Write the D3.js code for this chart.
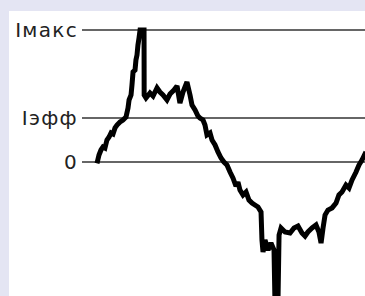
<!DOCTYPE html>
<meta charset="utf-8">
<html>
  <head>
    <style>
      body { margin: 0; }
      text.lbl {
          font-family: "DejaVu Sans", sans-serif;
          font-size: 20px;
          letter-spacing: 1.3px;
          fill: #222;
      }
    </style>
    <script src="https://d3js.org/d3.v7.min.js"></script>
  </head>
  <body>
    <script>

      var width = 365;
      var height = 296;

      // reference levels
      var levelNames = ["Iмакс", "Iэфф", "0"];
      var levelValues = [10, 3.33, 0];

      // one period, t in ms, current in A
      var tMs = [0, 0.15, 0.30, 0.45, 0.60, 0.75, 0.91, 1.06, 1.21, 1.36, 1.51, 1.74, 1.96, 2.19, 2.34, 2.42, 2.57, 2.64, 2.72, 2.87, 2.94, 3.02, 3.09, 3.17, 3.25, 3.55, 3.56, 3.70, 4.00, 4.23, 4.53, 4.75, 4.98, 5.28, 5.51, 5.81, 6.04, 6.26, 6.49, 6.79, 7.02, 7.17, 7.40, 7.62, 7.77, 8.00, 8.15, 8.30, 8.53, 8.68, 8.91, 9.13, 9.36, 9.58, 9.81, 10.04, 10.26, 10.49, 10.64, 10.79, 11.02, 11.25, 11.47, 11.70, 11.92, 12.15, 12.38, 12.45, 12.53, 12.68, 12.91, 13.13, 13.36, 13.43, 13.66, 13.74, 13.89, 14.19, 14.57, 14.87, 15.17, 15.47, 15.70, 15.92, 16.23, 16.53, 16.75, 16.91, 17.06, 17.21, 17.43, 17.74, 18.04, 18.26, 18.49, 18.79, 19.02, 19.25, 19.55, 19.77, 20.0, 20.3];
      var current = [-0.1, 0.53, 0.91, 1.14, 1.06, 1.67, 1.89, 2.20, 2.12, 2.58, 2.80, 3.03, 3.18, 3.41, 4.09, 4.70, 5.08, 5.83, 6.82, 6.97, 7.73, 8.11, 8.86, 9.39, 10, 10, 5.08, 4.85, 5.23, 5.00, 5.61, 5.30, 5.08, 4.70, 5.15, 5.45, 5.76, 4.47, 5.30, 6.06, 5.08, 4.32, 3.94, 3.48, 3.33, 3.18, 2.80, 2.05, 2.20, 1.67, 1.29, 0.76, 0.30, 0, -0.23, -0.76, -1.21, -1.82, -1.52, -2.12, -2.50, -2.27, -2.88, -3.11, -3.26, -3.41, -3.79, -5.91, -6.82, -5.91, -6.67, -6.14, -6.67, -10.5, -10.5, -5.53, -5.0, -5.30, -5.38, -5.0, -4.85, -5.38, -5.61, -5.30, -5.0, -4.77, -5.30, -6.14, -5.0, -4.02, -3.64, -3.48, -3.11, -2.50, -2.27, -1.74, -1.97, -1.36, -0.76, -0.23, 0.15, 0.76];

      var svg = d3.select('body').append('svg')
	  .attr('width', width)
	  .attr('height', height);

      svg.append("rect")
	  .attr("width", width).attr("height", height)
	  .attr("fill", "#e4e5f3");

      svg.append("rect")
	  .attr("x", 9).attr("y", 11)
	  .attr("width", width - 9).attr("height", height - 11)
	  .attr("fill", "#fff");

      var x = d3.scaleLinear().domain([0, 20]).range([97, 362]);
      var y = d3.scaleLinear().domain([-10, 10]).range([294, 30]);

      var levels = svg.selectAll(".level")
	  .data(levelNames)
	  .enter().append("g")
	  .attr("class", "level")
	  .attr("transform", function(d, i) { return "translate(0," + Math.round(y(levelValues[i])) + ")"; });

      levels.append("line")
	  .attr("x1", 82).attr("x2", width)
	  .attr("stroke", "#333")
	  .attr("stroke-width", 1.6);

      levels.append("text")
	  .attr("class", "lbl")
	  .attr("x", 78)
	  .attr("y", 7)
	  .style("text-anchor", "end")
	  .text(function(d) { return d; });

      var line = d3.line()
	  .x(function(d, i) { return x(tMs[i]); })
	  .y(function(d) { return y(d); });

      svg.append("path")
	  .datum(current)
	  .attr("d", line)
	  .attr("fill", "none")
	  .attr("stroke", "#000")
	  .attr("stroke-width", 5)
	  .attr("stroke-linejoin", "miter")
	  .attr("stroke-miterlimit", 2);

    </script>
  </body>
</html>
